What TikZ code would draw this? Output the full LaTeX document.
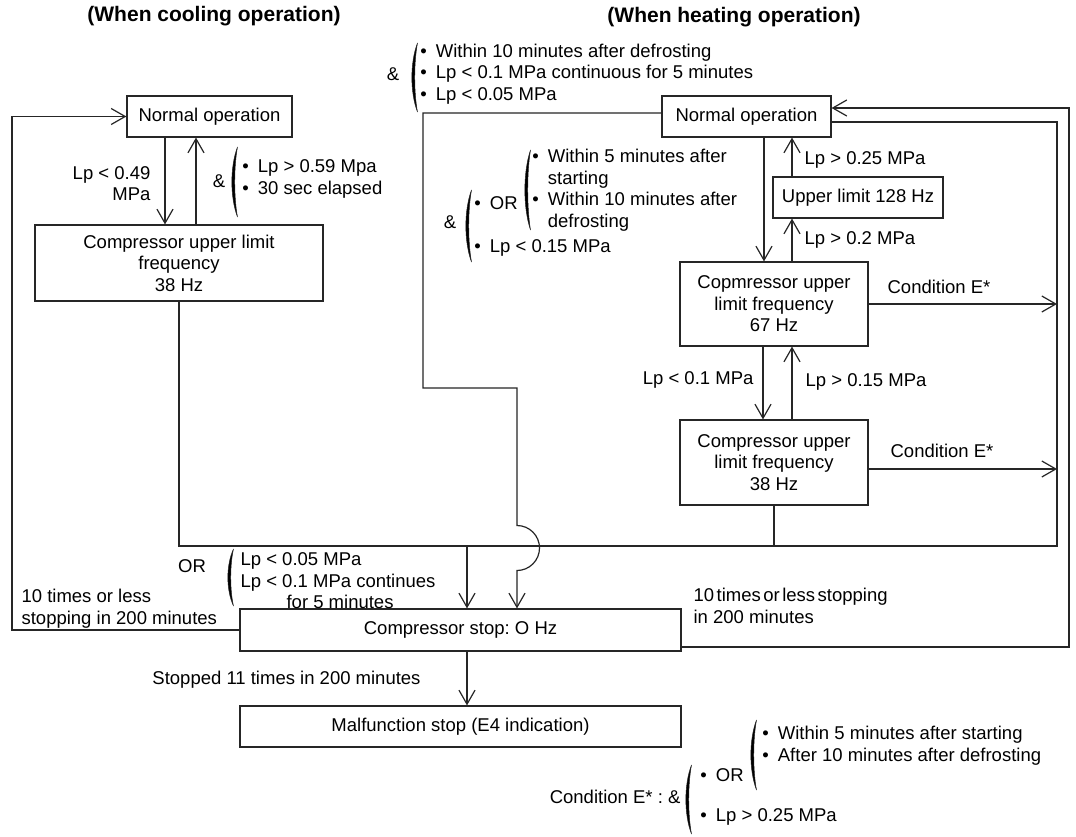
\documentclass[tikz,border=0pt]{standalone}
\usepackage{fontspec}
\setmainfont{Liberation Sans}
\usetikzlibrary{arrows.meta}
\frenchspacing
\newcommand{\drawparen}[3]{%
  \filldraw[line width=0.5pt] ({#1+5.5},{#2}) .. controls ({#1-2},{#2+0.28*(#3-#2)}) and ({#1-2},{#3-0.28*(#3-#2)}) .. ({#1+5.5},{#3})
    .. controls ({#1+1.8},{#3-0.28*(#3-#2)}) and ({#1+1.8},{#2+0.28*(#3-#2)}) .. cycle;}
\tikzset{
  box/.style={draw, inner sep=0pt, align=center},
  lbl/.style={inner sep=0pt},
  ttl/.style={inner sep=0pt, font=\fontsize{21}{25}\selectfont\bfseries},
}
\newcommand{\bul}{\textbullet\hspace{9pt}}
\begin{document}
\frenchspacing
\begin{tikzpicture}[x=1pt,y=-1pt, line width=1.2pt, draw=black!85,
  font=\fontsize{18.5}{21.5}\selectfont\frenchspacing,
  >={Straight Barb[length=14pt,width=16pt]}]
\useasboundingbox[fill=white] (0,0) rectangle (1076,837);

% titles
\node[ttl] (t1) at (214,16) {(When cooling operation)};
\node[ttl] (t2) at (734,17) {(When heating operation)};

% boxes
\node[box, minimum width=165, minimum height=41] (cn) at (209.5,116.5) {Normal operation};
\node[box, minimum width=288, minimum height=76] (cc) at (179,263) {Compressor upper limit\\frequency\\38 Hz};
\node[box, minimum width=169, minimum height=41] (hn) at (746.5,116.5) {Normal operation};
\node[box, minimum width=170, minimum height=41] (hu) at (858,197.5) {Upper limit 128 Hz};
\node[box, minimum width=188, minimum height=84] (h67) at (774,304) {Copmressor upper\\limit frequency\\67 Hz};
\node[box, minimum width=188, minimum height=85] (h38) at (774,462.5) {Compressor upper\\limit frequency\\38 Hz};
\node[box, minimum width=441, minimum height=42] (stop) at (460.5,630) {Compressor stop: O Hz};
\node[box, minimum width=441, minimum height=41] (mal) at (460.5,726.5) {Malfunction stop (E4 indication)};

% helper coordinates
\coordinate (bR) at (1057,546);
\coordinate (j1) at (467,546);
\coordinate (j2) at (517,570.5);

% cooling connectors
\draw[->] ([xshift=-44.5pt]cn.south) -- ([xshift=-44.5pt]cn.south |- cc.north);
\draw[->] ([xshift=17pt]cc.north) -- ([xshift=17pt]cc.north |- cn.south);
\draw[->] (stop.west) -- (12,630) |- (cn.west);

% bus to stop
\draw ([yshift=-5.5pt]hn.east) -| (bR) -| (cc.south);
\draw (h38.south) -- (h38.south |- bR);
\draw[->] (j1) -- (j1 |- stop.north);

% heating left line with jump
\draw[->] ([yshift=3.5pt]hn.west) -- (423,113) -- (423,388) -- (517,388) -- (517,525.5)
   arc[start angle=-90, end angle=90, radius=22.5] -- (j2 |- stop.north);

% outer right loop
\draw[->] ([yshift=-17pt]stop.east) -| (1069,108) -- ([yshift=8.5pt]hn.east);

% heating vertical arrows
\draw[->] ([xshift=17.5pt]hn.south) -- ([xshift=17.5pt]hn.south |- h67.north);
\draw[->] ([xshift=18pt]h67.north) -- ([xshift=18pt]h67.north |- hu.south);
\draw[->] ([xshift=-66pt]hu.north) -- ([xshift=-66pt]hu.north |- hn.south);
\draw[->] ([xshift=-11pt]h67.south) -- ([xshift=-11pt]h67.south |- h38.north);
\draw[->] ([xshift=18pt]h38.north) -- ([xshift=18pt]h38.north |- h67.south);

% condition E* arrows
\draw[->] (h67.east) -- (h67.east -| bR);
\draw[->] ([yshift=-6.5pt]h38.east) -- ([yshift=-6.5pt]h38.east -| bR);

% stop to malfunction
\draw[->] (j1 |- stop.south) -- (j1 |- mal.north);

% cooling labels
\node[lbl, align=right, anchor=east] (l1) at (151,183.5) {Lp < 0.49\\MPa};
\node[lbl] (a1) at (219,181) {\&};
\drawparen{232}{147}{217}
\node[lbl, anchor=west] (c1) at (241.8,179) {\begin{tabular}{@{}l@{\hspace{9pt}}l@{}}\textbullet & Lp > 0.59 Mpa\\ \textbullet & 30 sec elapsed\end{tabular}};

% heating top condition
\node[lbl] (a2) at (393,74) {\&};
\drawparen{412}{43}{112}
\node[lbl, anchor=west] (c2) at (419.8,74.5) {\begin{tabular}{@{}l@{\hspace{9pt}}l@{}}\textbullet & Within 10 minutes after defrosting\\ \textbullet & Lp < 0.1 MPa continuous for 5 minutes\\ \textbullet & Lp < 0.05 MPa\end{tabular}};

% heating second condition
\node[lbl] (a3) at (450,222) {\&};
\drawparen{466}{190}{262}
\node[lbl, anchor=west] (c3a) at (473.8,203) {\bul OR};
\node[lbl, anchor=west] (c3b) at (473.8,248) {\bul Lp < 0.15 MPa};
\drawparen{525}{150}{230}
\node[lbl, anchor=west] (c3c) at (531.8,190.5) {\begin{tabular}{@{}l@{\hspace{9pt}}l@{}}\textbullet & Within 5 minutes after\\ & starting\\ \textbullet & Within 10 minutes after\\ & defrosting\end{tabular}};

% heating arrow labels
\node[lbl, anchor=west] (l2) at (804,160) {Lp > 0.25 MPa};
\node[lbl, anchor=west] (l3) at (804,240) {Lp > 0.2 MPa};
\node[lbl, anchor=west] (l4) at (887,287) {Condition E*};
\node[lbl, anchor=east] (l5) at (754,380) {Lp < 0.1 MPa};
\node[lbl, anchor=west] (l6) at (805,382) {Lp > 0.15 MPa};
\node[lbl, anchor=west] (l7) at (890,451) {Condition E*};

% stop labels
\node[lbl] (o1) at (192,566) {OR};
\drawparen{228}{549}{606}
\node[lbl, anchor=west, align=left] (o2) at (240,581) {Lp < 0.05 MPa\\Lp < 0.1 MPa continues\\\hspace{46pt}for 5 minutes};
\node[lbl, anchor=west, align=left] (l8) at (21,608.5) {10 times or less\\stopping in 200 minutes};
\node[lbl, anchor=west, align=left] (l9) at (693,606) {\spaceskip=2.5pt 10 times or less stopping\\in 200 minutes};
\node[lbl] (l10) at (286.5,680) {Stopped 11 times in 200 minutes};

% legend
\node[lbl, anchor=east] (e0) at (681,797) {Condition E* : \&};
\drawparen{686}{765}{834}
\node[lbl, anchor=west] (e1) at (699.8,775) {\bul OR};
\node[lbl, anchor=west] (e2) at (699.8,817) {\bul Lp > 0.25 MPa};
\drawparen{751}{720}{790}
\node[lbl, anchor=west] (e3) at (761.8,746) {\begin{tabular}{@{}l@{\hspace{9pt}}l@{}}\textbullet & Within 5 minutes after starting\\ \textbullet & After 10 minutes after defrosting\end{tabular}};
\end{tikzpicture}
\end{document}
